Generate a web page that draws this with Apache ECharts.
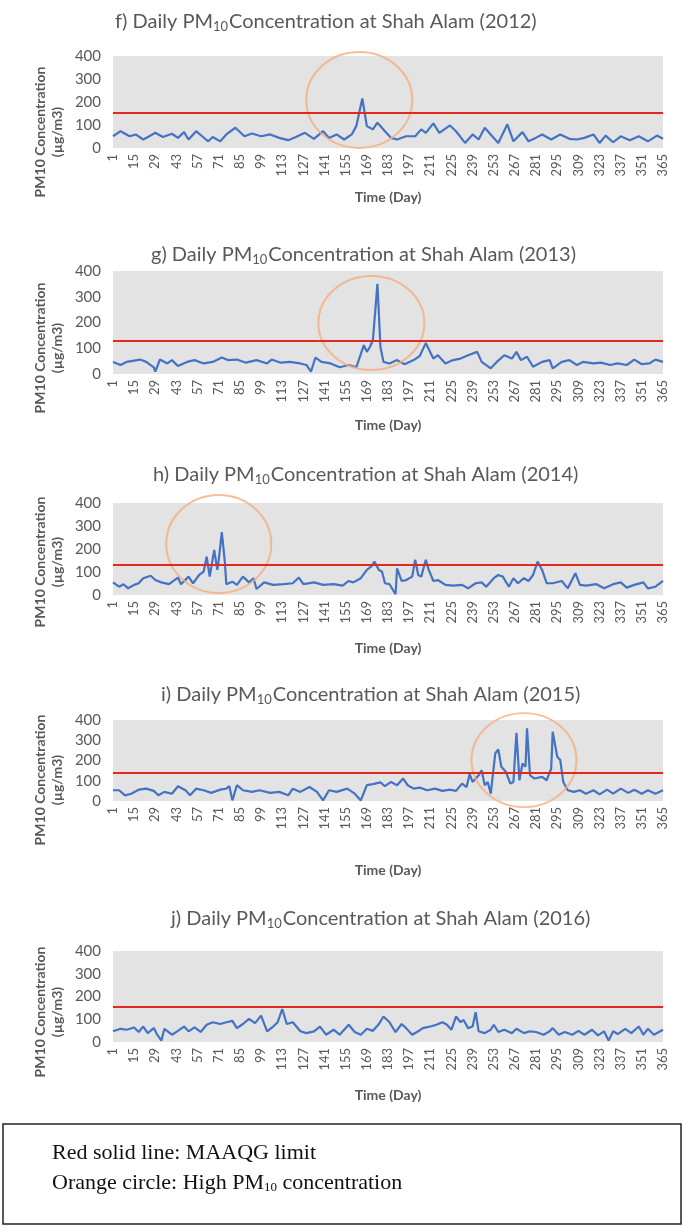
<!DOCTYPE html>
<html>
<head>
<meta charset="utf-8">
<script src="https://cdn.jsdelivr.net/npm/echarts@6/dist/echarts.min.js"></script>
<style>
  html, body { margin: 0; padding: 0; background: #fff; }
  #main { width: 683px; height: 1231px; }
</style>
</head>
<body>
<div id="main"></div>
<script>
// day numbers and PM10 readings (µg/m3)
var daysF = [1,6,12,16,21,25,29,34,40,44,48,51,56,60,64,67,72,76,82,88,93,99,105,111,117,122,128,134,140,144,149,154,159,162,166,169,173,176,181,185,189,195,201,205,208,213,217,224,228,234,239,243,247,252,256,262,266,272,276,281,285,291,297,303,308,313,319,323,327,332,337,343,349,355,361,365];
var pm10F = [51,73,51,59,37,51,66,48,62,44,69,37,73,51,29,48,29,59,88,51,63,51,59,44,34,48,66,40,73,44,59,37,59,95,215,95,81,110,73,44,37,51,51,81,66,107,66,98,73,22,59,37,88,51,22,103,29,69,29,45,59,37,59,40,37,44,59,22,54,25,51,34,51,29,54,40];

var daysG = [1,6,10,19,23,28,29,32,37,40,44,50,55,61,67,73,77,83,89,96,103,106,112,118,125,129,132,135,139,145,151,157,162,167,169,171,173,176,178,180,184,189,194,200,204,208,213,216,221,226,231,236,242,245,251,255,260,265,268,271,275,279,285,290,292,298,303,308,312,319,324,330,335,341,346,351,356,360,365];
var pm10G = [47,35,47,56,47,26,9,56,41,54,31,47,54,41,47,64,54,56,44,54,41,56,44,47,41,35,9,64,47,41,26,35,26,112,86,105,131,350,105,47,41,54,38,54,70,120,60,73,41,54,60,73,86,47,22,47,73,60,86,54,67,28,47,54,22,47,54,35,47,41,44,35,41,35,56,38,41,56,47];

var daysH = [1,5,8,11,15,18,21,26,29,33,38,41,44,46,51,54,58,61,63,65,68,70,71,73,75,76,80,83,87,91,94,96,101,107,114,120,124,127,134,140,147,153,157,160,165,169,172,174,177,179,181,184,188,189,192,195,199,201,203,205,208,210,213,216,221,226,232,236,241,245,248,253,256,259,263,266,269,273,276,279,282,285,288,292,298,302,307,310,314,321,326,332,337,341,346,352,355,360,365];
var pm10H = [55,36,47,29,44,51,73,84,65,55,47,61,76,47,80,51,87,102,167,80,196,109,153,273,145,47,58,44,80,55,73,26,55,44,47,51,76,47,55,44,47,41,61,55,73,109,124,145,109,102,51,47,3,116,61,65,80,153,87,80,153,109,61,65,44,41,44,29,51,55,36,73,87,80,36,73,51,73,61,87,145,109,51,51,61,29,95,44,41,47,29,47,55,32,44,55,29,36,61];

var daysI = [1,5,9,13,18,23,28,31,35,40,44,49,52,56,61,66,72,76,78,80,83,87,93,98,105,111,117,120,125,131,136,140,144,149,156,161,165,169,173,178,181,185,189,193,196,200,204,209,214,219,224,228,232,235,237,239,243,245,247,249,251,254,256,258,261,264,266,268,270,272,274,275,277,280,285,288,291,292,295,297,299,302,306,310,314,319,323,328,332,337,342,346,351,355,360,365];
var pm10I = [53,53,28,36,56,61,50,28,45,36,73,53,28,61,53,40,56,61,73,3,78,53,45,53,40,45,28,61,45,69,45,3,53,45,61,36,3,78,83,92,73,94,78,111,78,61,66,53,61,50,56,50,86,69,132,94,127,152,78,94,36,235,255,169,144,86,94,337,102,185,169,359,127,111,119,102,160,342,218,202,94,53,45,53,36,53,33,56,36,61,40,56,36,53,36,53];

var daysJ = [1,6,10,15,18,21,24,28,30,33,35,40,44,48,51,55,59,63,67,72,76,80,83,87,91,95,99,103,107,110,113,116,120,125,129,134,138,142,147,151,157,161,165,169,173,177,180,184,188,192,195,199,203,206,211,215,219,222,225,228,231,233,236,239,241,243,247,251,253,256,260,265,268,273,277,281,286,290,292,296,300,305,309,313,318,322,326,329,332,335,340,344,349,352,355,359,365];
var pm10J = [47,58,54,64,44,68,39,61,35,6,58,32,49,68,47,64,44,76,87,79,87,93,61,79,102,83,116,47,68,87,145,79,87,47,39,47,68,32,54,32,76,44,32,58,49,79,112,87,43,79,61,32,47,61,68,76,87,76,54,112,87,97,61,68,131,47,39,54,76,44,54,39,58,39,47,44,32,47,61,32,44,32,49,32,54,29,47,6,47,35,58,39,68,32,58,32,54];

var years = ['2012', '2013', '2014', '2015', '2016'];
var letters = ['f', 'g', 'h', 'i', 'j'];
// MAAQG limit line as drawn on each panel
var limits = [153, 128, 130, 140, 155];
// centre of each orange circle [day, value]; the 2016 panel has none
var circleCentres = [[164, 209], [172, 198], [71, 222], [273, 202], null];

var dayCats = [];
for (var d = 1; d <= 365; d++) dayCats.push(String(d));

var allDays = [daysF, daysG, daysH, daysI, daysJ];
var allVals = [pm10F, pm10G, pm10H, pm10I, pm10J];

// layout per panel
var gridTops = [56, 271, 503, 720, 951];
var gridHeights = [92, 103, 92, 81, 91];
var nameGaps = [42, 44, 46, 62, 46];
var titleLefts = [110, 146, 148, 156, 166];
var titleTops = [5, 238, 458, 678, 902];
var ylabelCentres = [132, 348, 562, 780, 1012];
var circleSizes = [[106, 96], [106, 94], [105, 98], [105, 94]];

var grey = '#595959';
var font = 'Lato, "Open Sans", sans-serif';
var serif = '"Liberation Serif", "Times New Roman", serif';

var chart = echarts.init(document.getElementById('main'));

var grids = [], xAxes = [], yAxes = [], series = [], titles = [], graphics = [];

for (var p = 0; p < 5; p++) {
    grids.push({
        left: 113, width: 550, top: gridTops[p], height: gridHeights[p],
        show: true, backgroundColor: '#e3e3e3', borderWidth: 0
    });
    xAxes.push({
        type: 'category', gridIndex: p, data: dayCats, boundaryGap: false,
        axisLine: { show: false }, axisTick: { show: false },
        axisLabel: { interval: 13, rotate: 90, color: grey, fontSize: 13, fontFamily: font, margin: 6 },
        name: 'Time (Day)', nameLocation: 'middle', nameGap: nameGaps[p],
        nameTextStyle: { color: grey, fontWeight: 'bold', fontSize: 14, fontFamily: font }
    });
    yAxes.push({
        type: 'value', gridIndex: p, min: 0, max: 400, interval: 100,
        splitLine: { show: false }, axisLine: { show: false }, axisTick: { show: false },
        axisLabel: { color: grey, fontSize: 15, fontFamily: font, margin: 12 }
    });

    var pts = allDays[p].map(function (day, i) { return [day - 1, allVals[p][i]]; });
    series.push({
        type: 'line', xAxisIndex: p, yAxisIndex: p, data: pts,
        showSymbol: false, symbol: 'none', silent: true,
        lineStyle: { color: '#4472C4', width: 2.2 },
        markLine: {
            silent: true, symbol: 'none', label: { show: false },
            lineStyle: { color: '#E3281E', width: 2, type: 'solid' },
            data: [{ yAxis: limits[p] }]
        },
        z: 3
    });

    if (circleCentres[p]) {
        series.push({
            type: 'scatter', xAxisIndex: p, yAxisIndex: p,
            data: [[circleCentres[p][0] - 1, circleCentres[p][1]]],
            symbol: 'circle', symbolSize: circleSizes[p], silent: true,
            itemStyle: { color: 'rgba(0,0,0,0)', borderColor: '#F4AE7E', borderWidth: 2 },
            z: 4
        });
    }

    titles.push({
        left: titleLefts[p], top: titleTops[p],
        text: '{a|' + letters[p] + ') Daily PM}{s|10}{a|Concentration at Shah Alam (' + years[p] + ')}',
        textStyle: {
            fontWeight: 'normal',
            rich: {
                a: { fontSize: 20, color: grey, fontFamily: font, fontWeight: 'normal' },
                s: { fontSize: 13, color: grey, fontFamily: font, fontWeight: 'normal', verticalAlign: 'bottom', padding: [10, 1, 0, 0] }
            }
        }
    });

    graphics.push({
        type: 'text', x: 49, y: ylabelCentres[p], rotation: Math.PI / 2,
        style: {
            text: 'PM10 Concentration\n(µg/m3)', align: 'center', verticalAlign: 'middle',
            fill: grey, font: 'bold 14px ' + font, lineHeight: 17
        }
    });
}

// legend box at the bottom
graphics.push({
    type: 'rect', shape: { x: 3, y: 1124, width: 678, height: 100 },
    style: { fill: 'none', stroke: '#222', lineWidth: 1.5 }
});
graphics.push({
    type: 'text', x: 52, y: 1153,
    style: { text: 'Red solid line: MAAQG limit', fill: '#111', font: '22px ' + serif, verticalAlign: 'middle' }
});
graphics.push({
    type: 'text', x: 52, y: 1183,
    style: {
        text: '{a|Orange circle: High PM}{s|10}{a| concentration}', verticalAlign: 'middle',
        rich: {
            a: { fontSize: 22, fontFamily: serif, fill: '#111' },
            s: { fontSize: 13, fontFamily: serif, fill: '#111', verticalAlign: 'bottom', padding: [8, 0, 0, 0] }
        }
    }
});

chart.setOption({
    animation: false,
    title: titles,
    grid: grids,
    xAxis: xAxes,
    yAxis: yAxes,
    series: series,
    graphic: graphics
});

window.addEventListener('resize', function () {
    chart.resize();
});
</script>
</body>
</html>
